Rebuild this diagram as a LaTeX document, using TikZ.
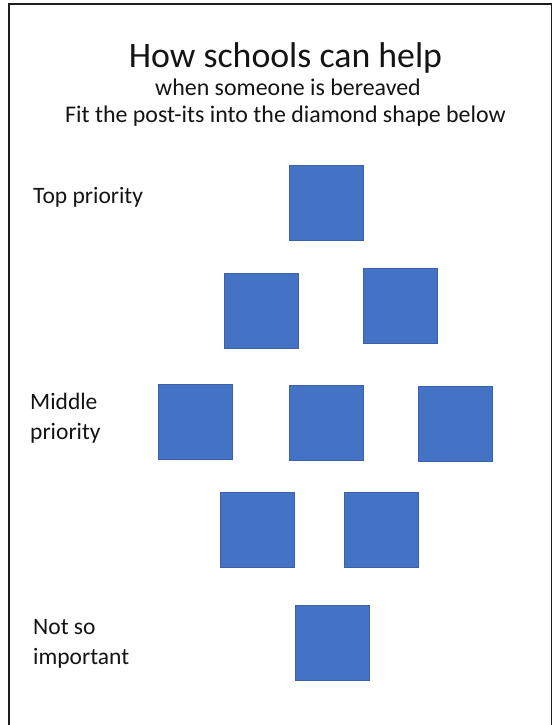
\documentclass[tikz,border=0pt]{standalone}
\usepackage{fontspec}
\setmainfont{Carlito}
\definecolor{postblue}{RGB}{68,114,196}
\definecolor{framegray}{RGB}{30,30,30}
\definecolor{textgray}{RGB}{20,20,20}
\begin{document}
\begin{tikzpicture}[x=1pt,y=-1pt,
  postit/.style={rectangle,fill=postblue,draw=postblue!85!black,line width=0.6pt,minimum width=74pt,minimum height=75pt,inner sep=0pt},
  lbl/.style={anchor=base west,inner sep=0pt,text=textgray,font=\fontsize{23.5}{30}\selectfont,align=left},
  ttl/.style={anchor=base,inner sep=0pt,text=textgray}]
\useasboundingbox (0,0) rectangle (553,725);
\clip (0,0) rectangle (553,725);
\fill[white] (0,0) rectangle (553,725);
\draw[framegray,line width=1.6pt] (9,740) -- (9,4) -- (551.5,4) -- (551.5,740);
% titles
\node[ttl,font=\fontsize{35.8}{40}\selectfont] (title) at (285.5,67) {How schools can help};
\node[ttl,font=\fontsize{23.9}{26}\selectfont] (sub1) at (288,95) {when someone is bereaved};
\node[ttl,font=\fontsize{23.9}{26}\selectfont] (sub2) at (285.5,122) {Fit the post-its into the diamond shape below};
% labels
\node[lbl] (top) at (33,203) {Top priority};
\node[lbl] (mid) at (30,439) {Middle\\priority};
\node[lbl] (low) at (33,664) {Not so\\important};
% post-its
\node[postit] (p1) at (326.5,203) {};
\node[postit] (p2l) at (261,311) {};
\node[postit] (p2r) at (400.5,305.5) {};
\node[postit] (p3l) at (195,422) {};
\node[postit] (p3m) at (326.5,423) {};
\node[postit] (p3r) at (455,424) {};
\node[postit] (p4l) at (257,529.5) {};
\node[postit] (p4r) at (381.5,529.5) {};
\node[postit] (p5) at (332.5,643) {};
\end{tikzpicture}
\end{document}
